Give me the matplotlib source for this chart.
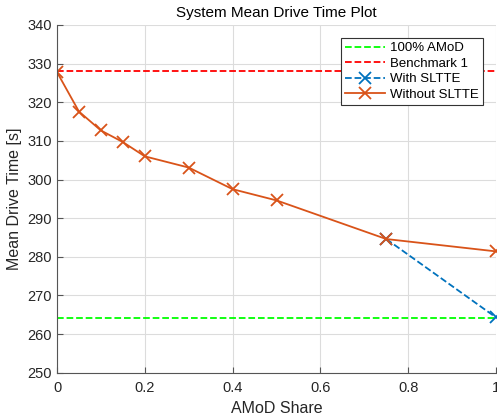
import numpy as np
import matplotlib
matplotlib.use('Agg')
import matplotlib.pyplot as plt

plt.rcParams['font.family'] = ['Liberation Sans', 'DejaVu Sans']

# data
share = [0, 0.05, 0.1, 0.15, 0.2, 0.3, 0.4, 0.5, 0.75, 1.0]
without_sltte = [327.8, 317.6, 312.7, 309.7, 306.0, 303.1, 297.5, 294.6, 284.6, 281.4]
with_share = [0.75, 1.0]
with_sltte = [284.6, 264.3]
amod_full = 264.2
benchmark1 = 328.0

ORANGE = '#D95319'
BLUE = '#0072BD'

fig = plt.figure(figsize=(4.97, 4.19), dpi=100)
ax = fig.add_axes([57 / 497, 1 - 372.7 / 419, 439 / 497, 347.7 / 419])

ax.plot([0, 1], [amod_full, amod_full], '--', color='#00FF00', lw=1.3, label='100% AMoD')
ax.plot([0, 1], [benchmark1, benchmark1], '--', color='#FF0000', lw=1.3, label='Benchmark 1')
ax.plot(with_share, with_sltte, '--x', color=BLUE, lw=1.3, ms=9, mew=1.3, label='With SLTTE')
ax.plot(share, without_sltte, '-x', color=ORANGE, lw=1.3, ms=9, mew=1.3, label='Without SLTTE')

ax.set_xlim(0, 1)
ax.set_ylim(250, 340)
ax.set_xticks([0, 0.2, 0.4, 0.6, 0.8, 1])
ax.set_xticklabels(['0', '0.2', '0.4', '0.6', '0.8', '1'])
ax.set_yticks(np.arange(250, 341, 10))

ax.grid(True, color='#dcdcdc', lw=0.8)
ax.set_axisbelow(True)
for s in ['top', 'right']:
    ax.spines[s].set_visible(False)
for s in ['left', 'bottom']:
    ax.spines[s].set_color('#555555')
    ax.spines[s].set_linewidth(0.8)
ax.tick_params(direction='in', length=4, colors='#555555', labelcolor='#262626', labelsize=10.5)
ax.xaxis.set_tick_params(pad=6)

ax.set_xlabel('AMoD Share', fontsize=11.5, color='#262626')
ax.set_ylabel('Mean Drive Time [s]', fontsize=11.5, color='#262626')
ax.set_title('System Mean Drive Time Plot', fontsize=11, color='#000000', pad=6)

leg = ax.legend(loc='upper right', bbox_to_anchor=((483 - 57) / 439, 1 - (38 - 25) / 347.7),
                bbox_transform=ax.transAxes, fontsize=9.5, fancybox=False, framealpha=1,
                edgecolor='#333333', handlelength=3.0, borderpad=0.3, labelspacing=0.25,
                handletextpad=0.4, borderaxespad=0)
leg.get_frame().set_linewidth(0.8)

fig.savefig('out.png', dpi=100)
